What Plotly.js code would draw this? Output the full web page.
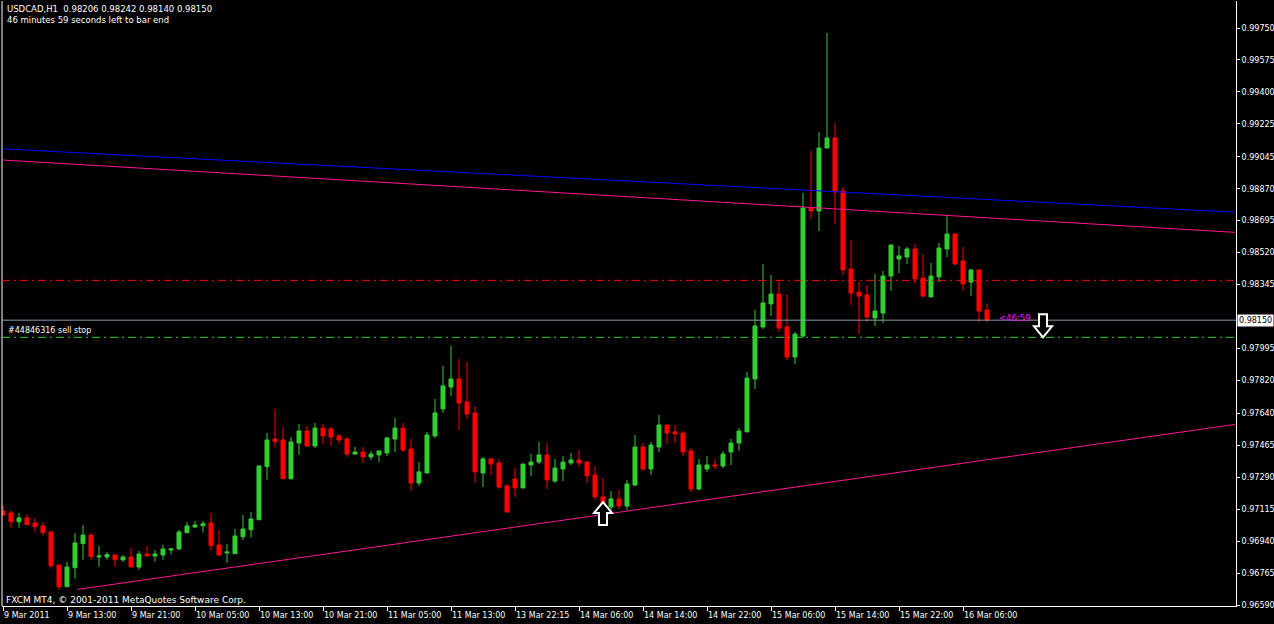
<!DOCTYPE html>
<html>
<head>
<meta charset="utf-8">
<script src="https://cdn.plot.ly/plotly-3.0.1.min.js"></script>
<style>
html,body{margin:0;padding:0;background:#000;}
#chart{width:1274px;height:624px;}
</style>
</head>
<body>
<div id="chart"></div>
<script>
// ---- USDCAD H1 bars (bar index 0 = 9 Mar 2011 05:00) ----
const openP = [0.97105,0.97094,0.97046,0.97067,0.97039,0.97023,0.96990,0.96809,0.96690,0.96794,
0.96926,0.96973,0.96853,0.96853,0.96864,0.96837,0.96853,0.96798,0.96869,0.96858,
0.96864,0.96891,0.96897,0.96986,0.97017,0.97024,0.97039,0.96919,0.96875,0.96871,
0.96964,0.97002,0.97057,0.97348,0.97499,0.97494,0.97282,0.97477,0.97543,0.97461,
0.97559,0.97554,0.97516,0.97499,0.97417,0.97428,0.97401,0.97412,0.97423,0.97499,
0.97559,0.97444,0.97258,0.97313,0.97516,0.97664,0.97784,0.97828,0.97702,0.97642,
0.97313,0.97390,0.97368,0.97242,0.97280,0.97231,0.97357,0.97373,0.97412,0.97269,
0.97335,0.97368,0.97384,0.97373,0.97302,0.97182,0.97127,0.97171,0.97132,0.97247,
0.97455,0.97335,0.97455,0.97576,0.97538,0.97532,0.97434,0.97225,0.97335,0.97357,
0.97351,0.97428,0.97477,0.97538,0.97828,0.98113,0.98239,0.98293,0.98113,0.97948,
0.98063,0.98764,0.98748,0.99093,0.99148,0.98858,0.98430,0.98304,0.98288,0.98162,
0.98189,0.98392,0.98485,0.98496,0.98540,0.98381,0.98277,0.98387,0.98540,0.98622,
0.98474,0.98359,0.98425,0.98206];
const highP = [0.97138,0.97110,0.97094,0.97088,0.97067,0.97045,0.96995,0.96809,0.96826,0.96984,
0.97028,0.96984,0.96913,0.96880,0.96864,0.96864,0.96902,0.96886,0.96913,0.96891,
0.96919,0.96902,0.97001,0.97045,0.97050,0.97050,0.97094,0.97001,0.96924,0.97006,
0.97083,0.97099,0.97357,0.97532,0.97664,0.97565,0.97510,0.97581,0.97570,0.97587,
0.97581,0.97565,0.97527,0.97510,0.97455,0.97455,0.97434,0.97434,0.97510,0.97614,
0.97587,0.97499,0.97373,0.97538,0.97718,0.97899,0.98009,0.97937,0.97921,0.97680,
0.97401,0.97395,0.97390,0.97253,0.97340,0.97362,0.97417,0.97483,0.97477,0.97390,
0.97406,0.97423,0.97439,0.97379,0.97351,0.97286,0.97214,0.97220,0.97275,0.97521,
0.97477,0.97483,0.97631,0.97576,0.97576,0.97543,0.97450,0.97390,0.97406,0.97390,
0.97434,0.97499,0.97559,0.97866,0.98206,0.98458,0.98397,0.98365,0.98293,0.98085,
0.98847,0.99077,0.99181,0.99723,0.99230,0.98879,0.98589,0.98359,0.98343,0.98403,
0.98419,0.98562,0.98556,0.98551,0.98567,0.98512,0.98463,0.98573,0.98726,0.98628,
0.98551,0.98430,0.98430,0.98242];
const lowP = [0.97078,0.97013,0.97013,0.97030,0.96992,0.96970,0.96789,0.96672,0.96689,0.96734,
0.96838,0.96838,0.96800,0.96838,0.96800,0.96827,0.96794,0.96783,0.96858,0.96827,
0.96838,0.96866,0.96891,0.96986,0.97012,0.96986,0.96887,0.96860,0.96822,0.96871,
0.96946,0.96959,0.97056,0.97276,0.97452,0.97282,0.97276,0.97413,0.97455,0.97450,
0.97472,0.97461,0.97472,0.97401,0.97412,0.97368,0.97384,0.97373,0.97406,0.97428,
0.97428,0.97214,0.97242,0.97313,0.97505,0.97642,0.97735,0.97549,0.97609,0.97258,
0.97236,0.97302,0.97225,0.97099,0.97182,0.97231,0.97297,0.97362,0.97225,0.97258,
0.97269,0.97357,0.97346,0.97258,0.97165,0.97127,0.97110,0.97116,0.97110,0.97242,
0.97324,0.97302,0.97428,0.97472,0.97477,0.97406,0.97209,0.97220,0.97319,0.97335,
0.97340,0.97357,0.97434,0.97538,0.97773,0.98102,0.98173,0.98085,0.97932,0.97910,
0.98052,0.98704,0.98638,0.99093,0.98677,0.98397,0.98233,0.98074,0.98140,0.98118,
0.98135,0.98310,0.98408,0.98458,0.98348,0.98277,0.98277,0.98359,0.98496,0.98452,
0.98310,0.98282,0.98140,0.98140];
const closeP = [0.97083,0.97046,0.97067,0.97030,0.97019,0.96986,0.96805,0.96690,0.96798,0.96930,
0.96973,0.96855,0.96858,0.96866,0.96838,0.96853,0.96800,0.96869,0.96858,0.96869,
0.96897,0.96897,0.96990,0.97023,0.97028,0.97035,0.96915,0.96864,0.96880,0.96968,
0.97006,0.97061,0.97351,0.97494,0.97484,0.97282,0.97483,0.97543,0.97461,0.97559,
0.97516,0.97510,0.97494,0.97417,0.97428,0.97401,0.97417,0.97434,0.97505,0.97559,
0.97439,0.97258,0.97319,0.97521,0.97642,0.97790,0.97828,0.97696,0.97636,0.97319,
0.97390,0.97362,0.97236,0.97099,0.97231,0.97362,0.97373,0.97412,0.97275,0.97340,
0.97373,0.97384,0.97368,0.97297,0.97182,0.97138,0.97171,0.97132,0.97253,0.97455,
0.97335,0.97466,0.97576,0.97532,0.97527,0.97428,0.97225,0.97357,0.97357,0.97351,
0.97417,0.97477,0.97543,0.97833,0.98118,0.98244,0.98293,0.98107,0.97948,0.98074,
0.98764,0.98748,0.99093,0.99148,0.98852,0.98425,0.98299,0.98282,0.98167,0.98200,
0.98392,0.98562,0.98502,0.98540,0.98376,0.98282,0.98392,0.98545,0.98622,0.98458,
0.98348,0.98425,0.98200,0.98150];

// time axis labels (every 8 bars)
const timeTickBars = [0,8,16,24,32,40,48,56,64,72,80,88,96,104,112,120];
const timeTickText = ['9 Mar 2011','9 Mar 13:00','9 Mar 21:00','10 Mar 05:00','10 Mar 13:00','10 Mar 21:00',
  '11 Mar 05:00','11 Mar 13:00','13 Mar 22:15','14 Mar 06:00','14 Mar 14:00','14 Mar 22:00',
  '15 Mar 06:00','15 Mar 14:00','15 Mar 22:00','16 Mar 06:00'];
// price axis labels
const priceTicks = [0.99750,0.99575,0.99400,0.99225,0.99045,0.98870,0.98695,0.98520,0.98345,
  0.97995,0.97820,0.97640,0.97465,0.97290,0.97115,0.96940,0.96765,0.96590];

// trend lines: [bar1, price1, bar2, price2]
const blueTrend = [0, 0.99088, 154, 0.98741];
const pinkUpperTrend = [0, 0.99027, 154, 0.98631];
const pinkLowerTrend = [9.25, 0.96675, 154, 0.97579];
// horizontal levels
const redLevel = 0.98368;
const sellStopLevel = 0.98056;
const bidLevel = 0.98150;
// arrows: [bar, price]
const buyArrow = [75, 0.97154];
const sellArrow = [130, 0.98056];

const FONT = 'DejaVu Sans';
const bars = openP.map((_, i) => i);

const traces = [
  {
    type: 'candlestick', x: bars, open: openP, high: highP, low: lowP, close: closeP,
    increasing: {line: {color: '#32cd32', width: 1}, fillcolor: '#32cd32'},
    decreasing: {line: {color: '#ff0000', width: 1}, fillcolor: '#ff0000'},
    whiskerwidth: 0, hoverinfo: 'skip', showlegend: false
  },
  {type: 'scatter', mode: 'lines', x: [blueTrend[0], blueTrend[2]], y: [blueTrend[1], blueTrend[3]],
   line: {color: '#0000ff', width: 1}, hoverinfo: 'skip', showlegend: false},
  {type: 'scatter', mode: 'lines', x: [pinkUpperTrend[0], pinkUpperTrend[2]], y: [pinkUpperTrend[1], pinkUpperTrend[3]],
   line: {color: '#ff1493', width: 1}, hoverinfo: 'skip', showlegend: false},
  {type: 'scatter', mode: 'lines', x: [pinkLowerTrend[0], pinkLowerTrend[2]], y: [pinkLowerTrend[1], pinkLowerTrend[3]],
   line: {color: '#ff1493', width: 1}, hoverinfo: 'skip', showlegend: false}
];

function arrowPath(up) {
  const s = up ? 1 : -1;
  const p = [[0,0],[9,-11],[4,-11],[4,-23],[-4,-23],[-4,-11],[-9,-11]];
  return 'M' + p.map(q => q[0] + ',' + (s * q[1])).join(' L') + ' Z';
}

const layout = {
  width: 1274, height: 624,
  paper_bgcolor: '#000000', plot_bgcolor: '#000000',
  margin: {l: 2, r: 38, t: 1, b: 18, pad: 0},
  showlegend: false,
  boxgap: 0.5, boxgroupgap: 0,
  font: {family: FONT, size: 8, color: '#ffffff'},
  xaxis: {
    range: [-0.125, 154.125], showgrid: false, zeroline: false,
    showline: true, linecolor: '#ffffff', linewidth: 1,
    rangeslider: {visible: false},
    tickmode: 'array', tickvals: timeTickBars, ticktext: timeTickText,
    ticks: 'outside', ticklen: 4, tickcolor: '#ffffff', tickwidth: 1,
    tickangle: 0, automargin: false,
    ticklabelposition: 'outside right', ticklabelstandoff: 1,
    tickfont: {family: FONT, size: 8, color: '#ffffff'}
  },
  yaxis: {
    side: 'right', range: [0.965845, 0.998981], showgrid: false, zeroline: false,
    showline: true, linecolor: '#ffffff', linewidth: 1,
    tickmode: 'array', tickvals: priceTicks, tickformat: '.5f',
    ticks: 'outside', ticklen: 3, tickcolor: '#ffffff', tickwidth: 1,
    tickfont: {family: FONT, size: 8, color: '#ffffff'}
  },
  shapes: [
    {type: 'line', xref: 'paper', yref: 'paper', x0: 0, x1: 0, y0: 0, y1: 1, line: {color: '#ffffff', width: 1}},
    {type: 'line', xref: 'paper', yref: 'y', x0: 0, x1: 1, y0: redLevel, y1: redLevel, line: {color: '#ff0000', width: 1, dash: '8px,4px,2px,4px'}},
    {type: 'line', xref: 'paper', yref: 'y', x0: 0, x1: 1, y0: sellStopLevel, y1: sellStopLevel, line: {color: '#32cd32', width: 1, dash: '8px,4px,2px,4px'}},
    {type: 'line', xref: 'paper', yref: 'y', x0: 0, x1: 1, y0: bidLevel, y1: bidLevel, line: {color: '#8899aa', width: 1}},
    {type: 'path', xref: 'x', yref: 'y', xsizemode: 'pixel', ysizemode: 'pixel',
     xanchor: buyArrow[0], yanchor: buyArrow[1], path: arrowPath(true),
     line: {color: '#ffffff', width: 2}, fillcolor: '#000000'},
    {type: 'path', xref: 'x', yref: 'y', xsizemode: 'pixel', ysizemode: 'pixel',
     xanchor: sellArrow[0], yanchor: sellArrow[1], path: arrowPath(false),
     line: {color: '#ffffff', width: 2}, fillcolor: '#000000'}
  ],
  annotations: [
    {xref: 'paper', yref: 'paper', x: 0, y: 1, xanchor: 'left', yanchor: 'top', xshift: 3, yshift: -1,
     text: 'USDCAD,H1  0.98206 0.98242 0.98140 0.98150', showarrow: false, font: {family: FONT, size: 8.5, color: '#ffffff'}},
    {xref: 'paper', yref: 'paper', x: 0, y: 1, xanchor: 'left', yanchor: 'top', xshift: 3, yshift: -12,
     text: '46 minutes 59 seconds left to bar end', showarrow: false, font: {family: FONT, size: 8.5, color: '#ffffff'}},
    {xref: 'paper', yref: 'paper', x: 0, y: 0, xanchor: 'left', yanchor: 'bottom', xshift: 2, yshift: -1,
     text: 'FXCM MT4, \u00a9 2001-2011 MetaQuotes Software Corp.', showarrow: false, font: {family: FONT, size: 9, color: '#ffffff'}},
    {xref: 'paper', yref: 'y', x: 0, y: sellStopLevel, xanchor: 'left', yanchor: 'bottom', xshift: 4, yshift: 0,
     text: '#44846316 sell stop', showarrow: false, font: {family: FONT, size: 8, color: '#ffffff'}},
    {xref: 'x', yref: 'y', x: 124.2, y: bidLevel, xanchor: 'left', yanchor: 'middle', yshift: 2,
     text: '&lt;46:59', showarrow: false, font: {family: FONT, size: 8.5, color: '#ff00ff'}},
    {xref: 'paper', yref: 'y', x: 1, y: bidLevel, xanchor: 'left', yanchor: 'middle', xshift: 1,
     text: bidLevel.toFixed(5), showarrow: false, bgcolor: '#ffffff', borderpad: 1,
     font: {family: FONT, size: 8, color: '#000000'}}
  ]
};

Plotly.newPlot('chart', traces, layout, {displayModeBar: false, staticPlot: true});
</script>
</body>
</html>
